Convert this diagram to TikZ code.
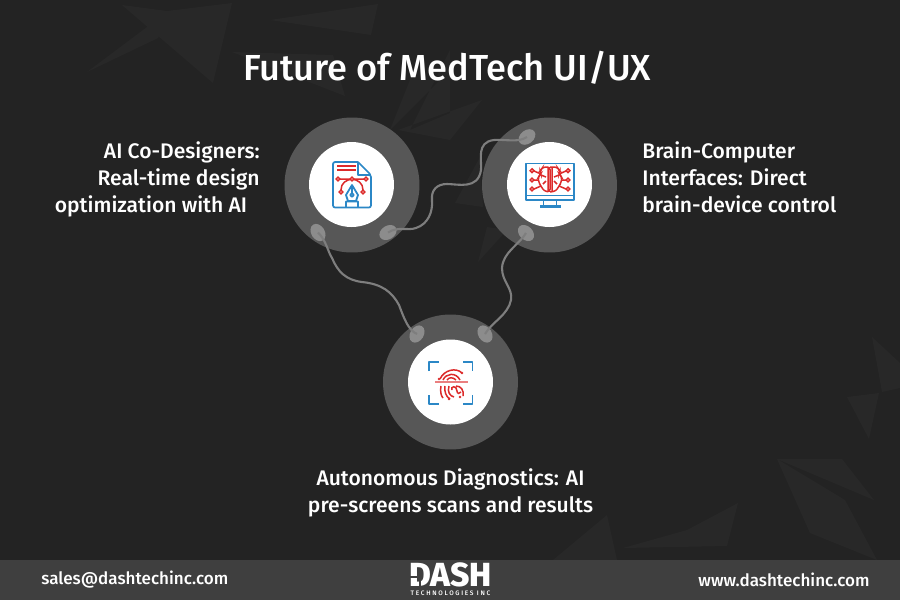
\documentclass[tikz,border=0pt]{standalone}
\usepackage{fontspec}
\setmainfont{Fira Sans}[UprightFont=* Medium]
\usepackage{tikz}
\usetikzlibrary{shapes.geometric}
\definecolor{bgdark}{HTML}{232323}
\definecolor{shard}{HTML}{282828}
\definecolor{band}{HTML}{3F3F3F}
\definecolor{ringgray}{HTML}{575757}
\definecolor{portgray}{HTML}{8C8C8C}
\definecolor{wiregray}{HTML}{7E7E7E}
\definecolor{iconred}{HTML}{DC2A2A}
\definecolor{iconblue}{HTML}{2B87C6}

\begin{document}
\begin{tikzpicture}[x=0.02cm,y=-0.02cm,
    ring node/.style={circle,fill=ringgray,inner sep=0pt,minimum size=2.7cm},
    face node/.style={circle,fill=white,inner sep=0pt,minimum size=1.7cm},
    port node/.style={ellipse,fill=portgray,inner sep=0pt,minimum width=0.37cm,minimum height=0.27cm},
    label node/.style={text=white,font=\fontsize{12}{15.5}\selectfont,inner sep=0pt},
    foot node/.style={text=white,font=\fontsize{9.7}{12}\selectfont,inner sep=0pt},
    wire/.style={wiregray,line width=1.2pt},
    red line/.style={iconred,line width=0.85pt},
    blue line/.style={iconblue,line width=1pt,line join=round}]
  \useasboundingbox (0,0) rectangle (900,600);
  \fill[bgdark] (0,0) rectangle (900,600);
  % background shards
  \fill[shard] (122,5) -- (167,11) -- (232,3) -- (213,83) -- cycle
    (87,72) -- (167,12) -- (158,38) -- cycle
    (270,20) -- (378,4) -- (371,35) -- cycle
    (232,52) -- (333,55) -- (345,96) -- cycle
    (398,130) -- (482,100) -- (450,140) -- cycle
    (390,130) -- (410,80) -- (440,80) -- cycle
    (410,130) -- (450,113) -- (450,50) -- cycle
    (455,203) -- (480,157) -- (483,207) -- cycle
    (478,262) -- (487,227) -- (507,230) -- cycle
    (872,337) -- (900,363) -- (900,388) -- (882,392) -- cycle
    (847,397) -- (879,393) -- (869,439) -- cycle
    (777,459) -- (842,459) -- (874,500) -- cycle
    (777,459) -- (810,533) -- (877,560) -- (845,500) -- cycle
    (738,503) -- (687,530) -- (727,546) -- cycle
    (623,548) -- (687,530) -- (727,546) -- cycle
    (607,515) -- (553,560) -- (617,560) -- cycle;

  % footer band
  \fill[band] (0,560) rectangle (900,600);

  \node[text=white,font=\fontsize{20.6}{24}\selectfont,inner sep=0pt] (title) at (447,68) {Future of MedTech UI/UX};

  \node[ring node] (ringA) at (352,185) {};
  \node[ring node] (ringB) at (549.5,185) {};
  \node[ring node] (ringC) at (450.5,382) {};
  \node[face node] (faceA) at (351.5,184.5) {};
  \node[face node] (faceB) at (549.5,184.5) {};
  \node[face node] (faceC) at (450.5,382) {};

  \node[port node,rotate=-58] (portAl) at (318,232.5) {};
  \node[port node,rotate=32] (portAr) at (388,232.5) {};
  \node[port node,rotate=38] (portBt) at (527,137) {};
  \node[port node,rotate=-45] (portBb) at (526,233) {};
  \node[port node,rotate=58] (portCl) at (417,334) {};
  \node[port node,rotate=-58] (portCr) at (485,334) {};

  % wires between the ports
  \draw[wire] (portAr.center) .. controls (398,226) and (408,231) .. (416,228)
    .. controls (428,224) and (433,212) .. (432,200)
    .. controls (431,190) and (437,184) .. (447,184)
    .. controls (458,184) and (478,190) .. (481,170)
    .. controls (482,160) and (476,142) .. (494,140)
    .. controls (505,139) and (518,143) .. (portBt.center);
  \draw[wire] (portAl.center) .. controls (326,240) and (328,252) .. (332,258)
    .. controls (338,272) and (346,280) .. (362,282)
    .. controls (382,284) and (392,292) .. (399,305)
    .. controls (404,318) and (408,330) .. (portCl.center);
  \draw[wire] (portBb.center) .. controls (519,245) and (503,252) .. (502,268)
    .. controls (502,282) and (513,288) .. (511,300)
    .. controls (508,315) and (492,322) .. (portCr.center);

  % document icon
  \draw[blue line,rounded corners=1.2pt] (358,162) -- (333,162) -- (333,207.5) -- (371,207.5) -- (371,175) -- (358,162);
  \draw[blue line] (358,162) -- (358,175) -- (371,175);
  \draw[red line,line width=1pt] (337,166) -- (356,166) (337,170) -- (356,170);
  \draw[red line] (340,179) -- (364,179)
    (341,190) .. controls (341,183) and (346,180) .. (352,179)
    (363,190) .. controls (363,183) and (358,180) .. (352,179);
  \foreach \cx/\cy in {338/179,352/179,366/179,341/192,363/192}
    \draw[red line,fill=white] (\cx,\cy) circle[radius=1.9];
  \draw[blue line,fill=white] (352,185) -- (358,195) -- (356,201) -- (348,201) -- (346,195) -- cycle;
  \draw[blue line] (352,185) -- (352,193) (352,195) circle[radius=1.8]
    (346,207.5) -- (346,201.5) -- (358,201.5) -- (358,207.5);

  % monitor icon
  \draw[blue line] (526,163.5) rectangle (574,200) (526,195.5) -- (574,195.5)
    (543.5,200) -- (543.5,205) (556.5,200) -- (556.5,205);
  \fill[iconblue] (539.5,205) rectangle (560.5,208);
  \draw[red line,rounded corners=1.5pt]
    (550,167) -- (543,167) -- (540,171) -- (541,174) -- (538,177) -- (539,183) -- (541,186) -- (544,191) -- (550,192) -- cycle
    (550,167) -- (557,167) -- (560,171) -- (559,174) -- (562,177) -- (561,183) -- (559,186) -- (556,191) -- (550,192)
    (548,167) -- (548,192) (552,167) -- (552,192)
    (541,175) -- (546,177) (543,184) -- (546,181) (559,175) -- (554,177) (557,184) -- (554,181);
  \draw[red line]
    (534,171) -- (541,174) (534,180) -- (538,180) (534,189) -- (541,186)
    (566,171) -- (559,174) (566,180) -- (562,180) (566,189) -- (559,186);
  \foreach \cx/\cy in {532/170.7,532/180,532/189,568/170.7,568/180,568/189}
    \draw[red line,fill=white] (\cx,\cy) circle[radius=1.9];

  % fingerprint icon
  \draw[blue line,line width=1.1pt] (429,371) -- (429,361.7) -- (438.5,361.7)
    (463,361.7) -- (472.5,361.7) -- (472.5,371)
    (429,395) -- (429,404.3) -- (438.5,404.3)
    (463,404.3) -- (472.5,404.3) -- (472.5,395);
  \draw[iconred!60!white,line width=1.2pt] (435,382.3) -- (467.5,382.3);
  \draw[red line] (440,379) .. controls (444,370) and (456,367) .. (462,373)
    (443,380) .. controls (446,373) and (456,372) .. (460,380)
    (447,380) .. controls (449,377) and (453,377) .. (456,380)
    (441,386) .. controls (440,391) and (441,396) .. (443,398)
    (445,386) .. controls (444,391) and (446,397) .. (450,399)
    (449,386) .. controls (447,392) and (450,396) .. (454,397)
    (452,390) .. controls (450,386) and (457,385) .. (457,391) .. controls (457,394) and (460,394) .. (461,392)
    (456,386) .. controls (461,386) and (464,390) .. (463,396);
  \foreach \cx/\cy in {439/379,462/373,449/399,460/397}
    \fill[iconred] (\cx,\cy) circle[radius=1.3];

  \node[label node,align=right,anchor=north east] (textA) at (260,141) {AI Co-Designers:\\Real-time design\\optimization with AI\hspace*{0.25cm}};
  \node[label node,align=left,anchor=north west] (textB) at (642,141) {Brain-Computer\\Interfaces: Direct\\brain-device control};
  \node[label node,align=center,anchor=north] (textC) at (450.5,468.5) {Autonomous Diagnostics: AI\\pre-screens scans and results};

  \node[foot node,anchor=west] (mail) at (41,580) {sales@dashtechinc.com};
  \node[foot node,anchor=east] (site) at (870,580) {www.dashtechinc.com};

  % logo
  \node[text=white,font=\fontsize{19}{20}\bfseries\selectfont,inner sep=0pt,text height=12.4pt,text depth=0pt] (logo) at (450.5,576) {DASH};
  \draw[band,line width=0.6pt] (410,577) -- (420,577) (420,577) -- (420,587);
  \node[text=white,font=\fontsize{3.7}{4}\selectfont\addfontfeature{LetterSpace=26},inner sep=0pt,text height=2.6pt,text depth=0pt] (logosub) at (450.5,593) {TECHNOLOGIES INC};
\end{tikzpicture}
\end{document}
